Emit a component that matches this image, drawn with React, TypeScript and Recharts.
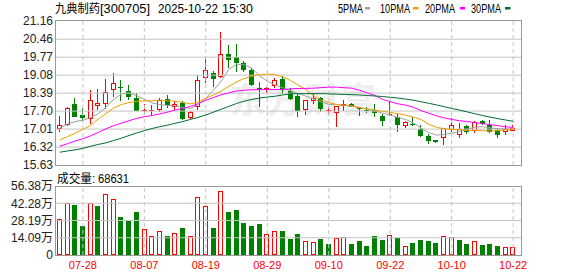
import React from 'react';
import {
  ComposedChart, Bar, Line, XAxis, YAxis, ReferenceLine,
} from 'recharts';

const RED = '#ff0000';
const GREEN = '#008000';
const FONT = "'Liberation Sans', 'Noto Sans CJK SC', sans-serif";
const GRID = '#c4c4c4';
const FRAME = '#999999';

const dates = [
  '07-23', '07-24', '07-25', '07-28', '07-29', '07-30', '07-31', '08-01', '08-04', '08-05',
  '08-06', '08-07', '08-08', '08-11', '08-12', '08-13', '08-14', '08-15', '08-18', '08-19',
  '08-20', '08-21', '08-22', '08-25', '08-26', '08-27', '08-28', '08-29', '09-01', '09-02',
  '09-03', '09-04', '09-05', '09-08', '09-09', '09-10', '09-11', '09-12', '09-15', '09-16',
  '09-17', '09-18', '09-19', '09-22', '09-23', '09-24', '09-25', '09-26', '09-29', '09-30',
  '10-09', '10-10', '10-13', '10-14', '10-15', '10-16', '10-17', '10-20', '10-21', '10-22',
];

const opens = [
  17.01, 17.16, 17.97, 17.55, 17.39, 17.88, 17.97, 18.50, 18.62, 18.48,
  18.22, 17.70, 17.70, 17.73, 18.16, 17.86, 18.02, 17.42, 17.84, 18.98,
  19.18, 19.00, 19.90, 19.78, 19.54, 19.29, 18.57, 18.50, 18.65, 18.95,
  18.47, 18.27, 17.75, 18.07, 18.19, 17.71, 17.64, 17.89, 17.99, 17.81,
  17.74, 17.74, 17.51, 17.55, 17.46, 17.11, 17.22, 17.03, 16.73, 16.58,
  16.68, 16.96, 16.80, 17.13, 16.93, 17.31, 17.16, 16.98, 16.88, 16.93,
];
const highs = [
  17.51, 17.85, 18.19, 17.81, 18.50, 18.53, 18.95, 19.18, 18.88, 18.69,
  18.41, 17.97, 17.94, 18.19, 18.32, 18.07, 18.07, 17.71, 19.10, 19.73,
  19.25, 20.72, 20.24, 20.28, 19.61, 19.36, 18.80, 18.62, 18.98, 19.04,
  18.60, 18.34, 18.12, 18.34, 18.24, 17.87, 17.88, 18.13, 18.02, 17.87,
  17.84, 17.99, 17.59, 18.08, 17.59, 17.31, 17.49, 17.15, 16.81, 16.60,
  17.06, 17.44, 17.24, 17.18, 17.31, 17.36, 17.36, 17.06, 17.15, 17.17,
];
const lows = [
  16.88, 17.14, 17.49, 17.33, 17.21, 17.75, 17.79, 18.24, 18.07, 18.12,
  17.69, 17.59, 17.53, 17.65, 17.82, 17.74, 17.36, 17.39, 17.74, 18.76,
  18.62, 18.98, 19.35, 19.22, 19.20, 18.66, 17.85, 18.40, 18.57, 18.34,
  18.12, 17.49, 17.56, 17.99, 17.66, 17.59, 17.08, 17.69, 17.84, 17.51,
  17.61, 17.46, 17.14, 17.52, 16.89, 17.06, 17.14, 16.70, 16.43, 16.48,
  16.39, 16.89, 16.68, 16.83, 16.85, 17.16, 16.86, 16.68, 16.80, 16.92,
];
const closes = [
  17.16, 17.83, 17.49, 17.44, 18.14, 18.03, 18.45, 18.79, 18.60, 18.24,
  17.71, 17.73, 17.73, 18.12, 17.92, 17.99, 17.39, 17.66, 18.88, 19.28,
  18.95, 19.90, 19.67, 19.56, 19.29, 18.69, 18.50, 18.57, 18.90, 18.52,
  18.16, 17.71, 18.12, 18.22, 17.78, 17.74, 17.88, 17.99, 17.86, 17.78,
  17.69, 17.61, 17.33, 17.57, 17.18, 17.28, 17.17, 16.75, 16.55, 16.52,
  17.06, 17.16, 17.03, 16.89, 17.28, 17.21, 16.88, 16.77, 17.02, 17.06,
];

const ma5 = [
  17.05, 17.20, 17.30, 17.35, 17.45, 17.60, 17.85, 18.15, 18.35, 18.40,
  18.30, 18.15, 18.02, 17.95, 17.92, 17.90, 17.84, 17.80, 17.95, 18.20,
  18.50, 18.85, 19.30, 19.50, 19.48, 19.35, 19.05, 18.85, 18.70, 18.60,
  18.48, 18.37, 18.28, 18.17, 18.05, 17.96, 17.94, 17.93, 17.88, 17.83,
  17.78, 17.70, 17.62, 17.55, 17.45, 17.38, 17.25, 17.05, 16.88, 16.78,
  16.80, 16.85, 16.92, 17.00, 17.08, 17.10, 17.06, 17.02, 17.02, 17.00,
];
const ma10 = [
  16.60, 16.72, 16.85, 17.00, 17.15, 17.40, 17.60, 17.82, 17.95, 18.03,
  18.07, 18.09, 18.10, 18.12, 18.10, 18.08, 18.03, 17.98, 18.05, 18.20,
  18.32, 18.47, 18.65, 18.82, 18.95, 19.04, 19.10, 19.12, 19.10, 19.02,
  18.88, 18.70, 18.53, 18.30, 18.12, 18.02, 17.96, 17.92, 17.90, 17.84,
  17.78, 17.74, 17.69, 17.65, 17.60, 17.55, 17.47, 17.38, 17.20, 17.08,
  17.02, 17.00, 16.98, 16.96, 16.96, 16.95, 16.93, 16.95, 16.98, 17.01,
];
const ma20 = [
  16.35, 16.45, 16.55, 16.64, 16.75, 16.88, 17.02, 17.14, 17.24, 17.33,
  17.42, 17.48, 17.53, 17.59, 17.66, 17.74, 17.80, 17.88, 17.98, 18.12,
  18.22, 18.33, 18.40, 18.47, 18.50, 18.52, 18.53, 18.53, 18.53, 18.53,
  18.55, 18.57, 18.57, 18.58, 18.60, 18.62, 18.62, 18.60, 18.58, 18.50,
  18.40, 18.30, 18.15, 18.06, 17.98, 17.93, 17.85, 17.72, 17.62, 17.52,
  17.44, 17.38, 17.33, 17.30, 17.26, 17.22, 17.18, 17.14, 17.10, 17.07,
];
const ma30 = [
  16.12, 16.17, 16.21, 16.27, 16.35, 16.42, 16.48, 16.57, 16.66, 16.76,
  16.86, 16.95, 17.03, 17.10, 17.16, 17.23, 17.30, 17.38, 17.46, 17.55,
  17.66, 17.77, 17.88, 17.99, 18.08, 18.15, 18.20, 18.24, 18.27, 18.32,
  18.36, 18.37, 18.37, 18.37, 18.37, 18.36, 18.35, 18.34, 18.33, 18.32,
  18.30, 18.28, 18.26, 18.23, 18.20, 18.16, 18.12, 18.06, 18.00, 17.94,
  17.87, 17.80, 17.74, 17.67, 17.60, 17.53, 17.47, 17.41, 17.36, 17.31,
];

// 成交量, in 万
const volumes = [
  29.1, 42.2, 40.9, 23.7, 42.2, 40.0, 49.6, 45.5, 30.8, 28.1,
  35.1, 21.2, 15.3, 19.3, 15.5, 17.7, 22.1, 15.5, 47.1, 39.8,
  22.1, 52.0, 35.1, 36.8, 26.2, 23.7, 25.3, 16.9, 19.3, 19.6,
  13.1, 17.2, 11.4, 10.6, 13.1, 9.0, 13.6, 14.4, 9.0, 11.4,
  7.4, 15.5, 12.3, 16.1, 13.9, 7.4, 9.8, 12.3, 11.4, 9.8,
  15.3, 14.4, 12.3, 9.0, 11.2, 8.2, 9.0, 7.4, 6.5, 6.86,
];

const priceTicks = [15.63, 16.32, 17.01, 17.70, 18.39, 19.08, 19.77, 20.46, 21.16];
const volTicks = [0, 14.09, 28.19, 42.28, 56.38];
const dateTicks = ['07-28', '08-07', '08-19', '08-29', '09-10', '09-22', '10-10', '10-22'];

const maLines = [
  { key: 'ma5', label: '5PMA', color: '#a0a0a0' },
  { key: 'ma10', label: '10PMA', color: '#f0a000' },
  { key: 'ma20', label: '20PMA', color: '#ff00ff' },
  { key: 'ma30', label: '30PMA', color: '#006d32' },
];

const rows = dates.map((date, i) => ({
  date,
  open: opens[i],
  high: highs[i],
  low: lows[i],
  close: closes[i],
  ma5: ma5[i],
  ma10: ma10[i],
  ma20: ma20[i],
  ma30: ma30[i],
  vol: volumes[i],
  volUp: i === 0 || closes[i] >= closes[i - 1],
}));

function CandleShape(props: any) {
  const { x, y, width, height, payload } = props;
  if (x == null || !payload) return null;
  const top = Math.min(y, y + height);
  const h = Math.abs(height);
  const { open, close, high, low } = payload;
  const toY = (v: number) => top + ((high - v) / (high - low || 1)) * h;
  const up = close >= open;
  const color = up ? RED : GREEN;
  const left = Math.round(x + width / 2 - 2.5);
  const wx = left + 2.5;
  const hy = Math.round(toY(high));
  const ly = Math.round(toY(low));
  const bt = Math.round(toY(Math.max(open, close)));
  const bb = Math.round(toY(Math.min(open, close)));

  if (bb - bt <= 1) {
    return (
      <g>
        <line x1={wx} x2={wx} y1={hy} y2={ly} stroke={color} />
        <line x1={left} x2={left + 5} y1={bt + 0.5} y2={bt + 0.5} stroke={color} />
      </g>
    );
  }
  if (up) {
    return (
      <g>
        <line x1={wx} x2={wx} y1={hy} y2={bt} stroke={color} />
        <line x1={wx} x2={wx} y1={bb} y2={ly} stroke={color} />
        <rect x={left + 0.5} y={bt + 0.5} width={4} height={bb - bt - 1} fill="#fff" stroke={color} />
      </g>
    );
  }
  return (
    <g>
      <line x1={wx} x2={wx} y1={hy} y2={ly} stroke={color} />
      <rect x={left} y={bt} width={5} height={bb - bt} fill={color} />
    </g>
  );
}

function VolumeShape(props: any) {
  const { x, y, width, height, payload } = props;
  if (x == null || !payload) return null;
  const left = Math.round(x + width / 2 - 2.5);
  const top = Math.round(y);
  const bottom = Math.round(y + height);
  if (payload.volUp) {
    return (
      <rect x={left + 0.5} y={top + 0.5} width={4} height={Math.max(bottom - top - 1, 0)} fill="#fff" stroke={RED} />
    );
  }
  return <rect x={left} y={top} width={5} height={bottom - top} fill={GREEN} />;
}

const tickStyle = { fontSize: 12, fill: '#222', fontFamily: FONT };
const frameBox = { position: 'absolute' as const, left: 55, width: 467, boxSizing: 'border-box' as const, border: `1px solid ${FRAME}`, pointerEvents: 'none' as const };

export default function App() {
  return (
    <div style={{ position: 'absolute', left: 0, top: 0, width: 578, height: 276, background: '#fff', overflow: 'hidden' }}>
      <div
        style={{
          position: 'absolute', left: 230, top: 72, fontSize: 35, fontWeight: 700,
          color: '#eeeeee', fontFamily: "'Noto Sans CJK SC', sans-serif", letterSpacing: 2,
          whiteSpace: 'nowrap',
        }}
      >
        东方财富
      </div>

      <div style={{ position: 'absolute', left: 0, top: 0, width: 578, height: 178 }}>
        <ComposedChart width={578} height={178} data={rows} margin={{ top: 21, right: 0, bottom: 13, left: 0 }}>
          <XAxis dataKey="date" hide padding={{ left: 0, right: 5 }} />
          <YAxis
            domain={[15.63, 21.16]}
            ticks={priceTicks}
            interval={0}
            width={56}
            tick={tickStyle}
            tickLine={false}
            tickSize={3}
            tickMargin={0}
            axisLine={false}
            tickFormatter={(v: number) => v.toFixed(2)}
            allowDataOverflow
          />
          <YAxis yAxisId="r" orientation="right" domain={[15.63, 21.16]} width={56} tick={false} tickLine={false} axisLine={false} />
          {priceTicks.slice(1, -1).map((t) => (
            <ReferenceLine key={t} y={t} stroke={GRID} />
          ))}
          {dateTicks.map((d) => (
            <ReferenceLine key={d} x={d} stroke={GRID} strokeDasharray="4 3" />
          ))}
          <Bar
            dataKey={(r: any) => [r.low, r.high]}
            barSize={5}
            shape={<CandleShape />}
            isAnimationActive={false}
          />
          {maLines.map((m) => (
            <Line
              key={m.key}
              type="linear"
              dataKey={m.key}
              stroke={m.color}
              strokeWidth={1}
              dot={false}
              activeDot={false}
              isAnimationActive={false}
            />
          ))}
        </ComposedChart>
      </div>

      <div style={{ position: 'absolute', left: 0, top: 170, width: 578, height: 106 }}>
        <ComposedChart width={578} height={106} data={rows} margin={{ top: 16, right: 0, bottom: 0, left: 0 }}>
          <XAxis
            dataKey="date"
            ticks={dateTicks}
            interval={0}
            height={21}
            padding={{ left: 0, right: 5 }}
            tick={{ fontSize: 11, fill: RED, fontFamily: FONT }}
            tickLine={false}
            tickSize={5}
            tickMargin={1}
            axisLine={false}
          />
          <YAxis
            domain={[0, 56.38]}
            ticks={volTicks}
            interval={0}
            width={56}
            tick={tickStyle}
            tickLine={false}
            tickSize={3}
            tickMargin={0}
            axisLine={false}
            tickFormatter={(v: number) => (v === 0 ? '0' : `${v.toFixed(2)}万`)}
          />
          <YAxis yAxisId="r" orientation="right" domain={[0, 56.38]} width={56} tick={false} tickLine={false} axisLine={false} />
          {volTicks.slice(1, -1).map((t) => (
            <ReferenceLine key={t} y={t} stroke={GRID} />
          ))}
          {dateTicks.map((d) => (
            <ReferenceLine key={d} x={d} stroke={GRID} strokeDasharray="4 3" />
          ))}
          <Bar dataKey="vol" barSize={5} shape={<VolumeShape />} isAnimationActive={false} />
        </ComposedChart>
      </div>

      {/* panel frames, drawn over the charts */}
      <div style={{ ...frameBox, top: 20, height: 146 }} />
      <div style={{ ...frameBox, top: 186, height: 70 }} />

      <svg width={578} height={276} style={{ position: 'absolute', left: 0, top: 0, pointerEvents: 'none' }}>
        <g fontFamily={FONT} fontSize={12} fill="#000">
          <text x={55} y={13} textLength={45} lengthAdjust="spacingAndGlyphs" fontFamily="'Noto Sans CJK SC', sans-serif">九典制药</text>
          <text x={100} y={13} textLength={50} lengthAdjust="spacingAndGlyphs">[300705]</text>
          <text x={158} y={13} textLength={60} lengthAdjust="spacingAndGlyphs">2025-10-22</text>
          <text x={222} y={13} textLength={31} lengthAdjust="spacingAndGlyphs">15:30</text>

          <text x={338} y={12.5} textLength={25} lengthAdjust="spacingAndGlyphs">5PMA</text>
          <rect x={365} y={7} width={5} height={2.5} fill={maLines[0].color} />
          <text x={380} y={12.5} textLength={30} lengthAdjust="spacingAndGlyphs">10PMA</text>
          <rect x={413} y={7} width={5.5} height={2.5} fill={maLines[1].color} />
          <text x={425} y={12.5} textLength={30} lengthAdjust="spacingAndGlyphs">20PMA</text>
          <rect x={460} y={7} width={5} height={2.5} fill={maLines[2].color} />
          <text x={471} y={12.5} textLength={30} lengthAdjust="spacingAndGlyphs">30PMA</text>
          <rect x={505} y={7} width={5.5} height={2.5} fill={maLines[3].color} />

          <text x={57} y={182.5} textLength={35} lengthAdjust="spacingAndGlyphs" fontFamily="'Noto Sans CJK SC', sans-serif">成交量</text>
          <text x={92} y={182.5}>:</text>
          <text x={98} y={182.5} textLength={31} lengthAdjust="spacingAndGlyphs">68631</text>
        </g>
      </svg>
    </div>
  );
}
